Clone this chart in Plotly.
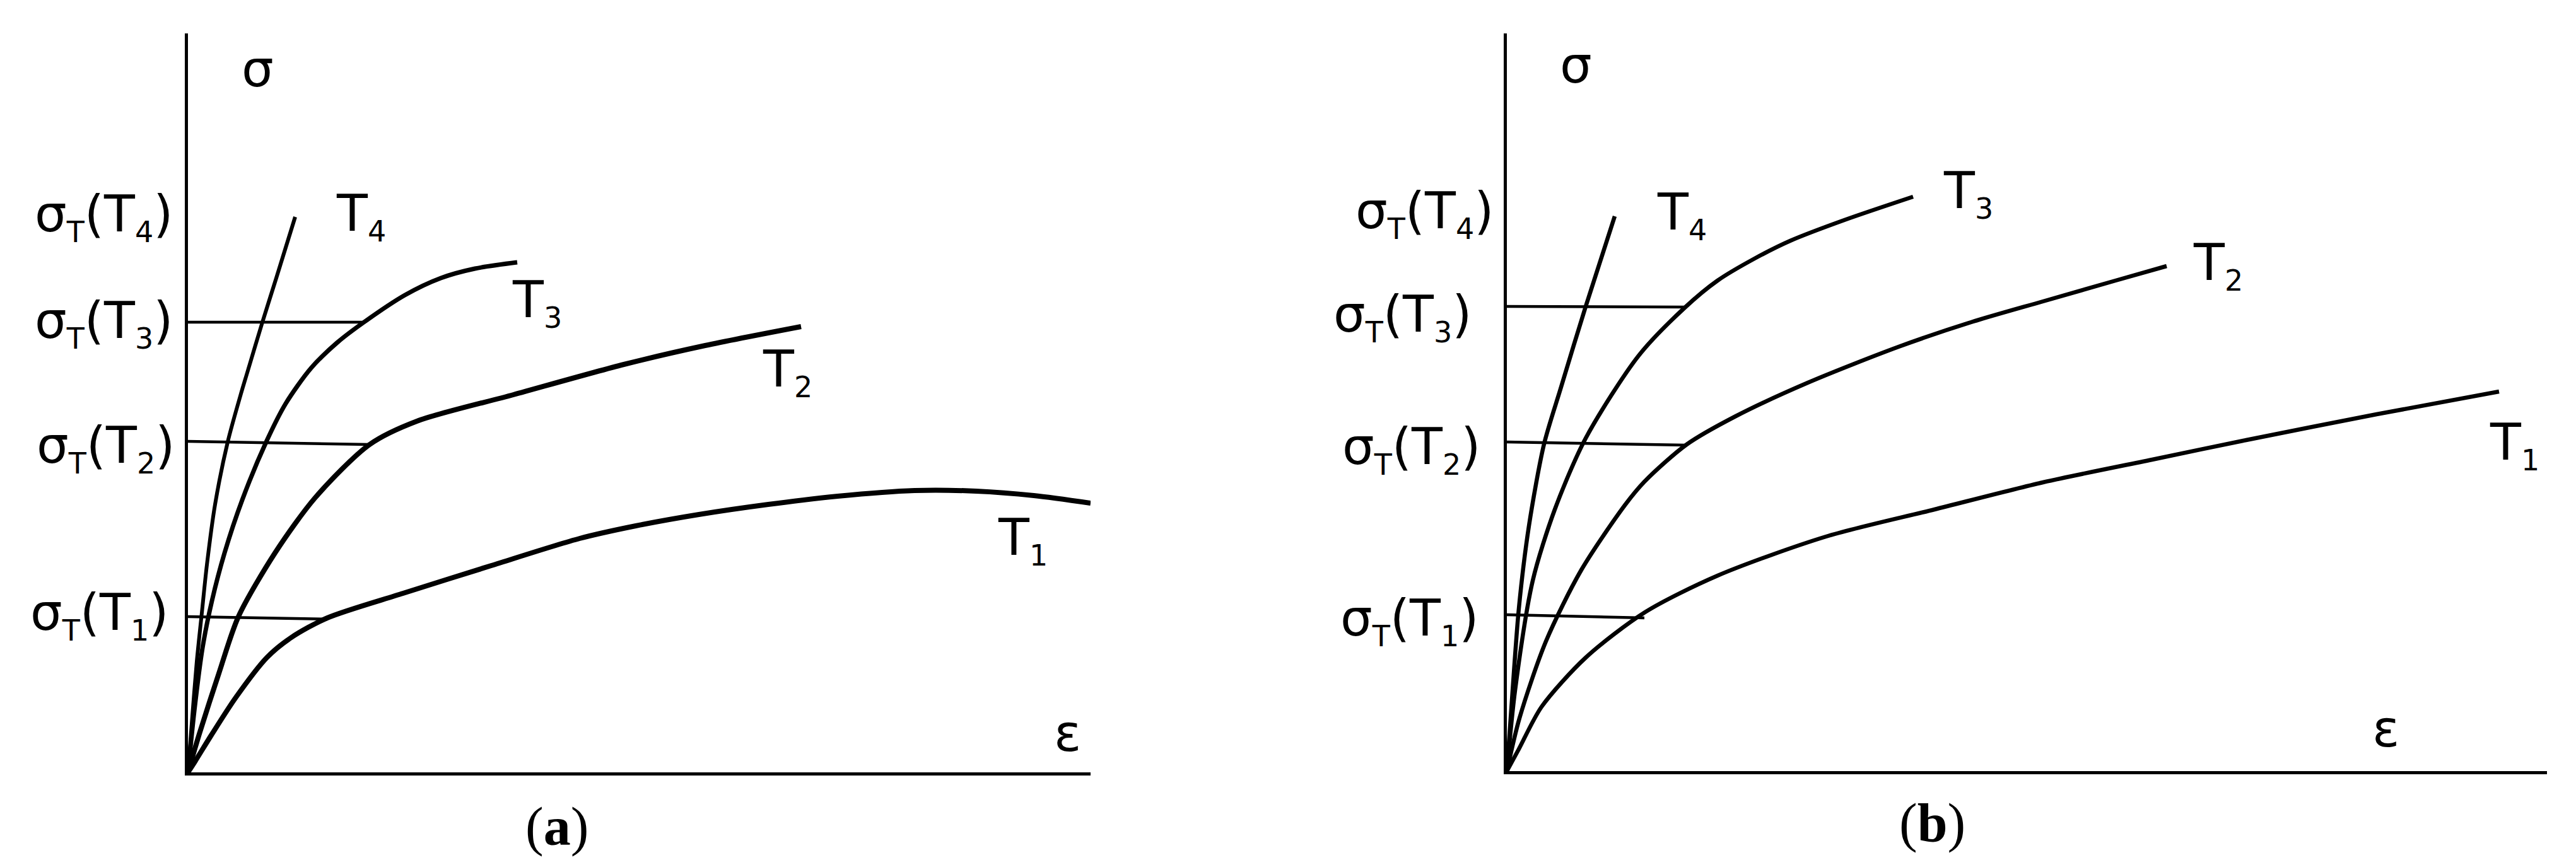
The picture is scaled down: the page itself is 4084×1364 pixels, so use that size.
import plotly.graph_objects as go

W, H = 4084, 1364

# ---- panel (a): stress-strain sketches ----
eps_t4_a = [0, 0.06, 0.14, 0.22, 0.30, 0.43, 0.63, 0.83, 0.94, 1.18, 1.40, 1.70]
sig_t4_a = [0, 0.77, 1.76, 2.53, 3.29, 4.25, 5.24, 5.97, 6.34, 7.14, 7.84, 8.81]

eps_t3_a = [0, 0.10, 0.23, 0.38, 0.58, 0.86, 1.24, 1.55, 1.95, 2.37, 2.79, 3.44, 4.01, 4.55, 5.22]
sig_t3_a = [0, 0.97, 1.97, 2.72, 3.48, 4.32, 5.24, 5.85, 6.41, 6.82, 7.14, 7.57, 7.84, 7.99, 8.09]

eps_t2_a = [0, 0.18, 0.49, 0.80, 1.38, 2.02, 2.88, 3.63, 5.16, 6.91, 8.20, 9.72]
sig_t2_a = [0, 0.61, 1.57, 2.47, 3.48, 4.36, 5.20, 5.57, 5.99, 6.47, 6.77, 7.07]

eps_t1_a = [0, 0.11, 0.37, 0.76, 1.25, 1.64, 2.21, 3.41, 4.81, 6.21, 7.10, 8.10, 9.20, 10.30, 11.52, 12.50, 13.41, 14.31]
sig_t1_a = [0, 0.17, 0.59, 1.19, 1.82, 2.14, 2.45, 2.84, 3.28, 3.71, 3.91, 4.09, 4.25, 4.38, 4.47, 4.46, 4.39, 4.27]

# yield levels: (stress at axis, end strain, stress at end)
yield_a = [(2.47, 2.21, 2.43), (5.25, 2.88, 5.20), (7.14, 2.79, 7.14)]

# ---- panel (b) ----
eps_t4_b = [0, 0.06, 0.19, 0.35, 0.59, 0.85, 1.25, 1.71]
sig_t4_b = [0, 0.84, 2.58, 3.89, 5.19, 6.06, 7.37, 8.80]

eps_t3_b = [0, 0.13, 0.41, 0.76, 1.25, 2.09, 2.82, 3.34, 3.91, 4.49, 5.35, 6.44]
sig_t3_b = [0, 1.28, 3.02, 4.15, 5.28, 6.59, 7.35, 7.78, 8.12, 8.41, 8.74, 9.11]

eps_t2_b = [0, 0.20, 0.62, 1.18, 1.88, 2.19, 2.85, 3.63, 4.77, 6.21, 7.36, 8.50, 9.65, 10.46]
sig_t2_b = [0, 0.84, 2.06, 3.19, 4.23, 4.60, 5.18, 5.63, 6.16, 6.73, 7.12, 7.45, 7.78, 8.01]

eps_t1_b = [0, 0.19, 0.55, 1.25, 2.19, 3.34, 5.06, 6.78, 8.50, 10.23, 11.72, 13.79, 15.73]
sig_t1_b = [0, 0.35, 1.02, 1.80, 2.52, 3.10, 3.72, 4.15, 4.58, 4.94, 5.25, 5.66, 6.02]

yield_b = [(2.48, 2.18, 2.43), (5.22, 2.85, 5.17), (7.37, 2.83, 7.36)]

curve_names = ['1', '2', '3', '4']
panel_titles = ['a', 'b']

# axis geometry of both panels
PANELS = {
    'a': dict(xa='x', ya='y', xdom=[290 / W, 1721 / W], xr=[0, 14.31],
              ydom=[(H - 1217) / H, (H - 45) / H], yr=[0, 11.72]),
    'b': dict(xa='x2', ya='y2', xdom=[2381 / W, 4030 / W], xr=[0, 16.49],
              ydom=[(H - 1215) / H, (H - 45) / H], yr=[0, 11.70]),
}


def sub(s):
    return '<sub><span style="font-size:46px">' + s + '</span></sub>'


def curve_label(d):
    return 'T' + sub(d)


def yield_label(d):
    return 'σ' + sub('T') + '(T' + sub(d) + ')'


def to_paper(p, x, y):
    # data coords of panel p -> paper coords (so labels outside the axes stay visible)
    g = PANELS[p]
    px = g['xdom'][0] + (x - g['xr'][0]) / (g['xr'][1] - g['xr'][0]) * (g['xdom'][1] - g['xdom'][0])
    py = g['ydom'][0] + (y - g['yr'][0]) / (g['yr'][1] - g['yr'][0]) * (g['ydom'][1] - g['ydom'][0])
    return px, py


def curve(x, y, p, width):
    return go.Scatter(
        x=x, y=y, xaxis=PANELS[p]['xa'], yaxis=PANELS[p]['ya'], mode='lines',
        line=dict(color='black', width=width, shape='spline', smoothing=0.8),
        hoverinfo='skip', showlegend=False
    )


def yield_line(s0, e1, s1, p):
    return go.Scatter(x=[0, e1], y=[s0, s1], xaxis=PANELS[p]['xa'], yaxis=PANELS[p]['ya'],
                      mode='lines', line=dict(color='black', width=4.5),
                      hoverinfo='skip', showlegend=False)


fig = go.Figure()

# panel (a)
fig.add_trace(curve(eps_t4_a, sig_t4_a, 'a', 6))
fig.add_trace(curve(eps_t3_a, sig_t3_a, 'a', 7))
fig.add_trace(curve(eps_t2_a, sig_t2_a, 'a', 8))
fig.add_trace(curve(eps_t1_a, sig_t1_a, 'a', 8))
for s0, e1, s1 in yield_a:
    fig.add_trace(yield_line(s0, e1, s1, 'a'))

# panel (b)
fig.add_trace(curve(eps_t4_b, sig_t4_b, 'b', 6.5))
fig.add_trace(curve(eps_t3_b, sig_t3_b, 'b', 6.5))
fig.add_trace(curve(eps_t2_b, sig_t2_b, 'b', 6.5))
fig.add_trace(curve(eps_t1_b, sig_t1_b, 'b', 6.5))
for s0, e1, s1 in yield_b:
    fig.add_trace(yield_line(s0, e1, s1, 'b'))

FONT = dict(family='DejaVu Sans', size=80, color='black')
SERIF = dict(family='Liberation Serif', size=86, color='black')
annotations = []


def note(text, p, x, y, xanchor='center', font=FONT):
    px, py = to_paper(p, x, y)
    annotations.append(dict(text=text, x=px, y=py, xref='paper', yref='paper', showarrow=False,
                            xanchor=xanchor, yanchor='middle', font=font))


# panel (a) labels
note('σ', 'a', 1.10, 11.16)
note('ε', 'a', 13.94, 0.62)
for d, (lx, ly) in zip(curve_names, [(12.82, 3.68), (9.09, 6.35), (5.12, 7.45), (2.33, 8.82)]):
    note(curve_label(d), 'a', lx, ly, 'left')
for d, (lx, ly) in zip(curve_names, [(-0.29, 2.49), (-0.19, 5.14), (-0.22, 7.12), (-0.22, 8.81)]):
    note(yield_label(d), 'a', lx, ly, 'right')

# panel (b) labels
note('σ', 'b', 1.09, 11.19)
note('ε', 'b', 13.93, 0.67)
for d, (lx, ly) in zip(curve_names, [(15.56, 5.17), (10.86, 8.02), (6.90, 9.16), (2.36, 8.82)]):
    note(curve_label(d), 'b', lx, ly, 'left')
for d, (lx, ly) in zip(curve_names, [(-0.43, 2.38), (-0.40, 5.10), (-0.54, 7.20), (-0.19, 8.84)]):
    note(yield_label(d), 'b', lx, ly, 'right')

# panel captions
note('(<b>' + panel_titles[0] + '</b>)', 'a', 5.85, -0.86, font=SERIF)
note('(<b>' + panel_titles[1] + '</b>)', 'b', 6.75, -0.82, font=SERIF)

axis_style = dict(showline=True, linecolor='black', linewidth=5, showgrid=False,
                  zeroline=False, showticklabels=False, ticks='', fixedrange=True)

pa, pb = PANELS['a'], PANELS['b']
fig.update_layout(
    width=W, height=H,
    margin=dict(l=0, r=0, t=0, b=0),
    paper_bgcolor='white',
    plot_bgcolor='white',
    xaxis=dict(range=pa['xr'], domain=pa['xdom'], anchor='y', **axis_style),
    yaxis=dict(range=pa['yr'], domain=pa['ydom'], anchor='x', **axis_style),
    xaxis2=dict(range=pb['xr'], domain=pb['xdom'], anchor='y2', **axis_style),
    yaxis2=dict(range=pb['yr'], domain=pb['ydom'], anchor='x2', **axis_style),
    annotations=annotations,
    showlegend=False,
)

fig.write_html("out.html")
